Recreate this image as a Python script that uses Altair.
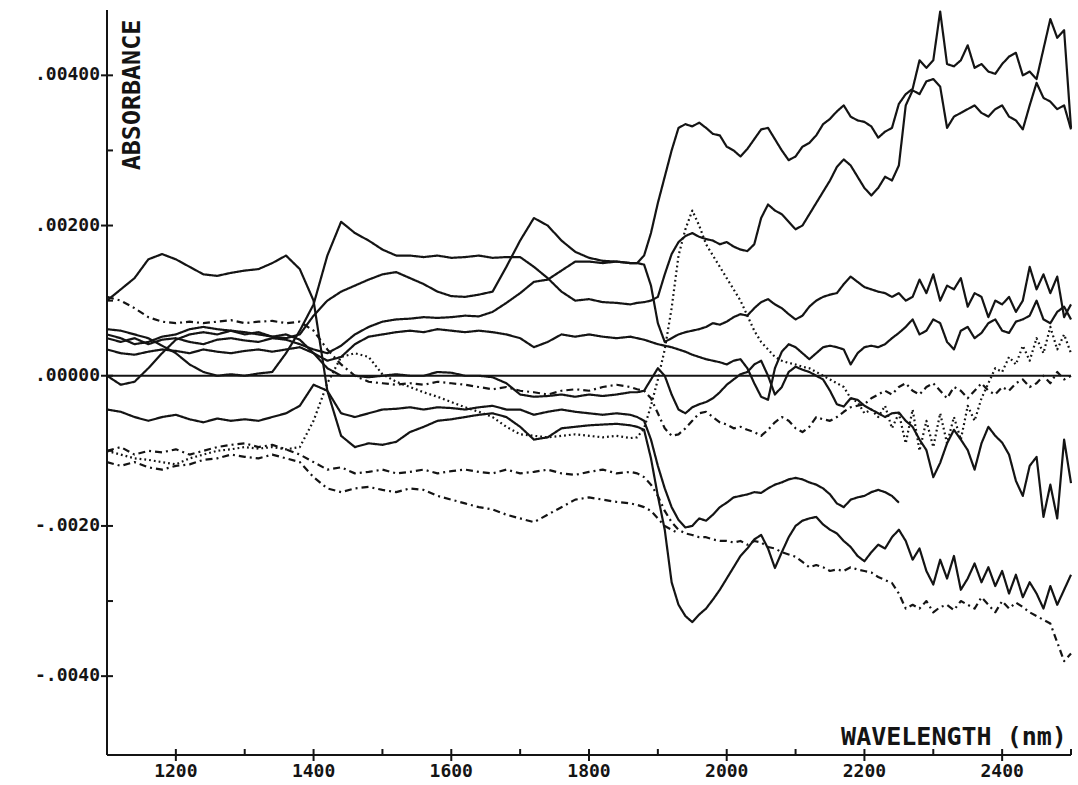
import altair as alt
import pandas as pd

# ---------------- data (absorbance in units of 1e-3) ----------------
wavelengths = [
    1100, 1120, 1140, 1160, 1180, 1200, 1220, 1240, 1260, 1280,
    1300, 1320, 1340, 1360, 1380, 1400, 1420, 1440, 1460, 1480,
    1500, 1520, 1540, 1560, 1580, 1600, 1620, 1640, 1660, 1680,
    1700, 1720, 1740, 1760, 1780, 1800, 1820, 1840, 1860,
    1870, 1880, 1890, 1900, 1910, 1920, 1930, 1940, 1950, 1960,
    1970, 1980, 1990, 2000, 2010, 2020, 2030, 2040, 2050, 2060,
    2070, 2080, 2090, 2100, 2110, 2120, 2130, 2140, 2150, 2160,
    2170, 2180, 2190, 2200, 2210, 2220, 2230, 2240, 2250, 2260,
    2270, 2280, 2290, 2300, 2310, 2320, 2330, 2340, 2350, 2360,
    2370, 2380, 2390, 2400, 2410, 2420, 2430, 2440, 2450, 2460,
    2470, 2480, 2490, 2500,
]

s1 = [
    1.0, 1.15, 1.3, 1.55, 1.62, 1.55, 1.45, 1.35, 1.33, 1.37,
    1.4, 1.42, 1.5, 1.6, 1.42, 1.0, -0.2, -0.8, -0.95, -0.9,
    -0.92, -0.88, -0.75, -0.68, -0.6, -0.58, -0.55, -0.52, -0.5, -0.55,
    -0.68, -0.85, -0.82, -0.7, -0.68, -0.66, -0.65, -0.64, -0.66,
    -0.68, -0.72, -1.1, -1.6, -2.05, -2.75, -3.05, -3.2, -3.28, -3.18,
    -3.1, -2.98, -2.85, -2.7, -2.55, -2.4, -2.3, -2.18, -2.12, -2.3,
    -2.56, -2.35, -2.15, -2.0, -1.93, -1.9, -1.88, -1.98, -2.05, -2.1,
    -2.2, -2.28, -2.4, -2.47, -2.35, -2.25, -2.3, -2.15, -2.05, -2.2,
    -2.45, -2.3, -2.6, -2.78, -2.45, -2.7, -2.4, -2.85, -2.7, -2.5,
    -2.75, -2.55, -2.8, -2.6, -2.9, -2.65, -2.95, -2.75, -2.9, -3.1,
    -2.8, -3.05, -2.85, -2.65,
]

sA = [
    0.55, 0.5, 0.42, 0.45, 0.52, 0.55, 0.62, 0.65, 0.62, 0.6,
    0.58, 0.55, 0.52, 0.5, 0.55, 0.8, 1.0, 1.12, 1.2, 1.28,
    1.35, 1.38, 1.3, 1.22, 1.12, 1.06, 1.05, 1.08, 1.12, 1.45,
    1.8, 2.1, 2.0, 1.8, 1.65, 1.57, 1.53, 1.52, 1.5,
    1.5, 1.6, 1.9, 2.3, 2.65, 3.0, 3.3, 3.35, 3.32, 3.37,
    3.3, 3.22, 3.2, 3.05, 3.0, 2.92, 3.02, 3.15, 3.28, 3.3,
    3.15, 3.0, 2.87, 2.92, 3.05, 3.1, 3.2, 3.35, 3.42, 3.52,
    3.6, 3.45, 3.4, 3.38, 3.32, 3.17, 3.25, 3.3, 3.62, 3.75,
    3.82, 4.2, 4.1, 4.2, 4.85, 4.15, 4.12, 4.2, 4.4, 4.1,
    4.15, 4.05, 4.02, 4.15, 4.25, 4.3, 4.0, 4.05, 3.95, 4.35,
    4.75, 4.5, 4.6, 3.3,
]

sB = [
    0.62, 0.6, 0.55, 0.5, 0.4, 0.3, 0.15, 0.05, 0.0, 0.02,
    0.0, 0.03, 0.05, 0.3, 0.6, 0.95, 1.6, 2.05, 1.9, 1.8,
    1.68, 1.6, 1.6, 1.58, 1.6, 1.57, 1.58, 1.6, 1.57, 1.58,
    1.58, 1.45, 1.3, 1.12, 1.0, 1.02, 0.98, 0.97, 0.95,
    0.97, 0.98, 1.0, 1.05, 1.35, 1.62, 1.78, 1.86, 1.9, 1.85,
    1.82, 1.8, 1.75, 1.78, 1.72, 1.68, 1.66, 1.75, 2.1, 2.28,
    2.2, 2.15, 2.05, 1.95, 2.0, 2.15, 2.3, 2.45, 2.6, 2.78,
    2.88, 2.8, 2.65, 2.5, 2.4, 2.5, 2.65, 2.6, 2.8, 3.6,
    3.8, 3.75, 3.92, 3.95, 3.85, 3.3, 3.45, 3.5, 3.55, 3.6,
    3.5, 3.45, 3.55, 3.6, 3.45, 3.4, 3.28, 3.6, 3.9, 3.7,
    3.65, 3.55, 3.6, 3.28,
]

sF = [
    0.5, 0.45, 0.5, 0.42, 0.48, 0.5, 0.45, 0.42, 0.48, 0.5,
    0.47, 0.45, 0.5, 0.48, 0.42, 0.35, 0.3, 0.4, 0.55, 0.65,
    0.72, 0.75, 0.76, 0.78, 0.77, 0.78, 0.8, 0.79, 0.85, 0.97,
    1.1, 1.25, 1.28, 1.4, 1.52, 1.52, 1.5, 1.52, 1.5,
    1.5, 1.48, 1.2, 0.7, 0.45, 0.5, 0.55, 0.58, 0.6, 0.62,
    0.65, 0.7, 0.68, 0.72, 0.78, 0.82, 0.8, 0.9, 0.98, 1.02,
    0.95, 0.9, 0.82, 0.75, 0.8, 0.92, 1.0, 1.05, 1.08, 1.1,
    1.22, 1.32, 1.25, 1.18, 1.15, 1.12, 1.1, 1.05, 1.1, 1.0,
    1.05, 1.28, 1.1, 1.35, 1.0, 1.2, 1.15, 1.3, 0.92, 1.1,
    1.05, 0.78, 1.0, 0.95, 1.05, 0.85, 1.0, 1.45, 1.15, 1.35,
    1.1, 1.32, 0.78, 0.95,
]

sG = [
    0.35, 0.3, 0.28, 0.32, 0.35, 0.33, 0.3, 0.35, 0.32, 0.3,
    0.33, 0.35, 0.32, 0.35, 0.38, 0.3, 0.2, 0.25, 0.42, 0.52,
    0.55, 0.58, 0.6, 0.58, 0.62, 0.6, 0.58, 0.6, 0.58, 0.55,
    0.5, 0.38, 0.45, 0.55, 0.52, 0.55, 0.52, 0.5, 0.52,
    0.5, 0.48, 0.45, 0.42, 0.4, 0.38, 0.35, 0.32, 0.28, 0.25,
    0.22, 0.2, 0.18, 0.15, 0.2, 0.22, 0.1, -0.1, -0.28, -0.32,
    0.1, 0.32, 0.42, 0.38, 0.3, 0.22, 0.3, 0.38, 0.4, 0.38,
    0.35, 0.15, 0.3, 0.38, 0.4, 0.38, 0.42, 0.5, 0.57, 0.65,
    0.75, 0.55, 0.6, 0.75, 0.7, 0.45, 0.35, 0.6, 0.65, 0.5,
    0.57, 0.7, 0.75, 0.6, 0.57, 0.72, 0.75, 0.8, 1.0, 0.75,
    0.7, 0.85, 0.92, 0.75,
]

sN = [
    0.0, -0.12, -0.08, 0.1, 0.3, 0.48, 0.55, 0.58, 0.55, 0.6,
    0.55, 0.58, 0.52, 0.55, 0.48, 0.3, 0.1, 0.0, 0.0, -0.02,
    0.0, 0.02, 0.0, 0.0, 0.05, 0.04, 0.0, 0.0, -0.02, -0.1,
    -0.25, -0.28, -0.27, -0.25, -0.28, -0.25, -0.27, -0.25, -0.22,
    -0.22, -0.2, -0.05, 0.1, 0.0, -0.25, -0.45, -0.5, -0.42, -0.38,
    -0.35, -0.3, -0.22, -0.12, -0.05, 0.02, 0.05, 0.15, 0.2, 0.0,
    -0.25, -0.15, 0.05, 0.12, 0.08, 0.05, 0.0, -0.05, -0.2, -0.38,
    -0.41, -0.3, -0.32, -0.4, -0.45, -0.5, -0.55, -0.5, -0.49, -0.6,
    -0.68, -0.85, -0.99, -1.35, -1.16, -0.9, -0.72, -0.85, -0.99, -1.25,
    -0.9, -0.68, -0.8, -0.89, -1.05, -1.4, -1.6, -1.2, -1.08, -1.88,
    -1.45, -1.9, -0.85, -1.43,
]

sE = [
    -0.45, -0.48, -0.55, -0.6, -0.55, -0.52, -0.58, -0.62, -0.57, -0.6,
    -0.58, -0.6, -0.55, -0.5, -0.4, -0.12, -0.2, -0.5, -0.55, -0.5,
    -0.45, -0.44, -0.42, -0.45, -0.42, -0.43, -0.45, -0.42, -0.4, -0.45,
    -0.45, -0.52, -0.48, -0.45, -0.48, -0.5, -0.52, -0.5, -0.52,
    -0.55, -0.6, -0.85, -1.2, -1.5, -1.75, -1.92, -2.02, -2.0, -1.9,
    -1.93, -1.85, -1.75, -1.69, -1.62, -1.6, -1.58, -1.55, -1.56, -1.5,
    -1.45, -1.42, -1.38, -1.36, -1.38, -1.42, -1.45, -1.5, -1.58, -1.7,
    -1.75, -1.65, -1.62, -1.6, -1.55, -1.52, -1.55, -1.6, -1.69, None,
    None, None, None, None, None, None, None, None, None, None,
    None, None, None, None, None, None, None, None, None, None,
    None, None, None, None,
]

sD = [
    -1.0, -1.05, -1.1, -1.12, -1.15, -1.18, -1.1, -1.05, -1.0, -0.98,
    -0.95, -0.97, -0.95, -0.98, -0.95, -0.6, -0.1, 0.25, 0.3, 0.25,
    0.02, -0.08, -0.15, -0.22, -0.28, -0.35, -0.42, -0.48, -0.55, -0.68,
    -0.78, -0.8, -0.82, -0.8, -0.78, -0.8, -0.82, -0.8, -0.83,
    -0.82, -0.7, -0.4, -0.05, 0.35, 0.9, 1.6, 1.95, 2.2, 2.0,
    1.75, 1.6, 1.45, 1.3, 1.15, 1.0, 0.8, 0.6, 0.45, 0.35,
    0.25, 0.2, 0.17, 0.15, 0.12, 0.1, 0.05, 0.0, -0.05, -0.1,
    -0.15, -0.3, -0.35, -0.5, -0.45, -0.55, -0.4, -0.7, -0.5, -0.9,
    -0.45, -1.0, -0.6, -0.95, -0.5, -0.9, -0.55, -0.85, -0.4, -0.6,
    -0.3, -0.1, 0.1, 0.05, 0.25, 0.15, 0.4, 0.2, 0.5, 0.3,
    0.65, 0.35, 0.55, 0.3,
]

sZ = [
    1.05, 1.0, 0.9, 0.78, 0.72, 0.7, 0.72, 0.7, 0.72, 0.74,
    0.7, 0.72, 0.73, 0.7, 0.72, 0.6, 0.35, 0.15, 0.0, -0.08,
    -0.1, -0.12, -0.1, -0.12, -0.08, -0.1, -0.12, -0.15, -0.18, -0.15,
    -0.2, -0.22, -0.25, -0.2, -0.18, -0.2, -0.15, -0.12, -0.15,
    -0.18, -0.2, -0.3, -0.5, -0.7, -0.8, -0.78, -0.7, -0.6, -0.5,
    -0.48, -0.55, -0.62, -0.65, -0.7, -0.68, -0.72, -0.75, -0.8, -0.72,
    -0.62, -0.55, -0.6, -0.7, -0.75, -0.68, -0.55, -0.58, -0.6, -0.55,
    -0.48, -0.42, -0.4, -0.38, -0.3, -0.25, -0.2, -0.25, -0.15, -0.1,
    -0.2, -0.25, -0.15, -0.1, -0.2, -0.3, -0.15, -0.2, -0.3, -0.2,
    -0.1, -0.2, -0.25, -0.15, -0.2, -0.1, -0.05, -0.15, -0.1, 0.0,
    -0.1, 0.05, -0.05, 0.0,
]

sQ1 = [
    -1.0, -0.95, -1.05, -1.0, -1.02, -0.98, -1.05, -1.0, -0.95, -0.92,
    -0.9, -0.95, -0.92, -0.98, -1.05, -1.15, -1.25, -1.22, -1.3, -1.28,
    -1.25, -1.3, -1.28, -1.25, -1.3, -1.27, -1.25, -1.28, -1.3, -1.25,
    -1.3, -1.28, -1.25, -1.3, -1.32, -1.28, -1.25, -1.3, -1.28,
    -1.3, -1.35, -1.45, -1.6, -1.8, -1.95, -2.05, -2.1, -2.12, -2.15,
    -2.15, -2.18, -2.2, -2.2, -2.22, -2.2, -2.25, -2.2, -2.22, -2.28,
    -2.3, -2.35, -2.38, -2.41, -2.48, -2.55, -2.52, -2.55, -2.6, -2.58,
    -2.6, -2.55, -2.58, -2.6, -2.62, -2.68, -2.72, -2.76, -2.9, -3.1,
    -3.05, -3.1, -3.0, -3.15, -3.08, -3.05, -3.12, -3.0, -3.05, -3.1,
    -2.95, -3.05, -3.15, -3.0, -3.1, -3.02, -3.08, -3.15, -3.2, -3.25,
    -3.3, -3.55, -3.8, -3.7,
]

sQ2 = [
    -1.15, -1.2, -1.15, -1.22, -1.25, -1.2, -1.18, -1.12, -1.1, -1.05,
    -1.08, -1.1, -1.05, -1.1, -1.15, -1.35, -1.5, -1.55, -1.5, -1.48,
    -1.52, -1.55, -1.5, -1.52, -1.6, -1.65, -1.7, -1.75, -1.78, -1.85,
    -1.9, -1.95, -1.85, -1.75, -1.65, -1.62, -1.65, -1.68, -1.7,
    -1.72, -1.75, -1.8, -1.9, -2.0, -2.05, -2.1, None, None, None,
    None, None, None, None, None, None, None, None, None, None,
    None, None, None, None, None, None, None, None, None, None,
    None, None, None, None, None, None, None, None, None, None,
    None, None, None, None, None, None, None, None, None, None,
    None, None, None, None, None, None, None, None, None, None,
    None, None, None, None,
]

series_names = ["S1", "A", "B", "F", "G", "N", "E", "D", "Z", "Q1", "Q2"]
series_styles = ["solid", "solid", "solid", "solid", "solid", "solid", "solid",
                 "dotted", "dashdot", "dashdot", "dashdot"]
series_values = [s1, sA, sB, sF, sG, sN, sE, sD, sZ, sQ1, sQ2]

x_ticks = [1200, 1400, 1600, 1800, 2000, 2200, 2400]
x_tick_labels = ["1200", "1400", "1600", "1800", "2000", "2200", "2400"]
x_minor = [1300, 1500, 1700, 1900, 2100, 2300, 2500]
y_ticks = [0.004, 0.002, 0.0, -0.002, -0.004]
y_tick_labels = [".00400", ".00200", ".00000", "-.0020", "-.0040"]
y_minor = [0.003, 0.001, -0.001, -0.003]

# ---------------- build tables ----------------
rows = []
for name, style, vals in zip(series_names, series_styles, series_values):
    assert len(vals) == len(wavelengths), (name, len(vals))
    for w, v in zip(wavelengths, vals):
        if v is None:
            continue
        rows.append({"nm": w, "absorbance": v * 1e-3, "series": name, "style": style})
df = pd.DataFrame(rows)

W, H = 964, 745
INK = "#141414"
FONT = "DejaVu Sans Mono"

xscale = alt.Scale(domain=[1100, 2500], nice=False, zero=False)
yscale = alt.Scale(domain=[-0.00505, 0.00487], nice=False, zero=False)

lines = alt.Chart(df).mark_line(strokeWidth=2.2, color=INK, strokeJoin="round").encode(
    x=alt.X("nm:Q", scale=xscale, axis=None),
    y=alt.Y("absorbance:Q", scale=yscale, axis=None),
    detail="series:N",
    strokeDash=alt.StrokeDash("style:N",
                              scale=alt.Scale(domain=["solid", "dotted", "dashdot"],
                                              range=[[1, 0], [1.8, 3.0], [7, 4, 2, 4]]),
                              legend=None),
)

zero_line = alt.Chart(pd.DataFrame({"absorbance": [0.0]})).mark_rule(
    color=INK, strokeWidth=1.8).encode(
    y=alt.Y("absorbance:Q", scale=yscale, axis=None),
    x=alt.value(0), x2=alt.value(W))

# axis lines
y_axis_line = alt.Chart(pd.DataFrame({"k": [0]})).mark_rule(color=INK, strokeWidth=2).encode(
    x=alt.value(0), y=alt.value(0), y2=alt.value(H))
x_axis_line = alt.Chart(pd.DataFrame({"k": [0]})).mark_rule(color=INK, strokeWidth=2).encode(
    x=alt.value(0), x2=alt.value(W), y=alt.value(H))

xt_major = alt.Chart(pd.DataFrame({"nm": x_ticks})).mark_rule(color=INK, strokeWidth=2).encode(
    x=alt.X("nm:Q", scale=xscale, axis=None), y=alt.value(H - 6), y2=alt.value(H + 6))
xt_minor = alt.Chart(pd.DataFrame({"nm": x_minor})).mark_rule(color=INK, strokeWidth=2).encode(
    x=alt.X("nm:Q", scale=xscale, axis=None), y=alt.value(H - 6), y2=alt.value(H))
yt_major = alt.Chart(pd.DataFrame({"absorbance": y_ticks})).mark_rule(color=INK, strokeWidth=2).encode(
    y=alt.Y("absorbance:Q", scale=yscale, axis=None), x=alt.value(-6), x2=alt.value(6))
yt_minor = alt.Chart(pd.DataFrame({"absorbance": y_minor})).mark_rule(color=INK, strokeWidth=2).encode(
    y=alt.Y("absorbance:Q", scale=yscale, axis=None), x=alt.value(0), x2=alt.value(6))

x_labels = alt.Chart(pd.DataFrame({"nm": x_ticks, "lab": x_tick_labels})).mark_text(
    font=FONT, fontSize=18, fontWeight="bold", color=INK, align="center", baseline="top").encode(
    x=alt.X("nm:Q", scale=xscale, axis=None), y=alt.value(H + 8), text="lab:N")
y_labels = alt.Chart(pd.DataFrame({"absorbance": y_ticks, "lab": y_tick_labels})).mark_text(
    font=FONT, fontSize=18, fontWeight="bold", color=INK, align="right", baseline="middle").encode(
    y=alt.Y("absorbance:Q", scale=yscale, axis=None), x=alt.value(-7), text="lab:N")

y_title = alt.Chart(pd.DataFrame({"t": ["ABSORBANCE"]})).mark_text(
    angle=270, font=FONT, fontSize=25, fontWeight="bold", color=INK,
    align="center", baseline="middle").encode(
    text="t:N", x=alt.value(25), y=alt.value(85))

x_title = alt.Chart(pd.DataFrame({"t": ["WAVELENGTH (nm)"]})).mark_text(
    font=FONT, fontSize=25, fontWeight="bold", color=INK,
    align="center", baseline="middle").encode(
    text="t:N", x=alt.value(847), y=alt.value(727))

chart = alt.layer(
    lines, zero_line, y_axis_line, x_axis_line,
    xt_major, xt_minor, yt_major, yt_minor,
    x_labels, y_labels, y_title, x_title,
).properties(
    width=W, height=H,
    background="white",
    autosize=alt.AutoSizeParams(type="none"),
    padding={"left": 107, "top": 10, "right": 7, "bottom": 30},
).configure_view(stroke=None)

chart.save("out.html", embed_options={"renderer": "svg", "actions": False})
